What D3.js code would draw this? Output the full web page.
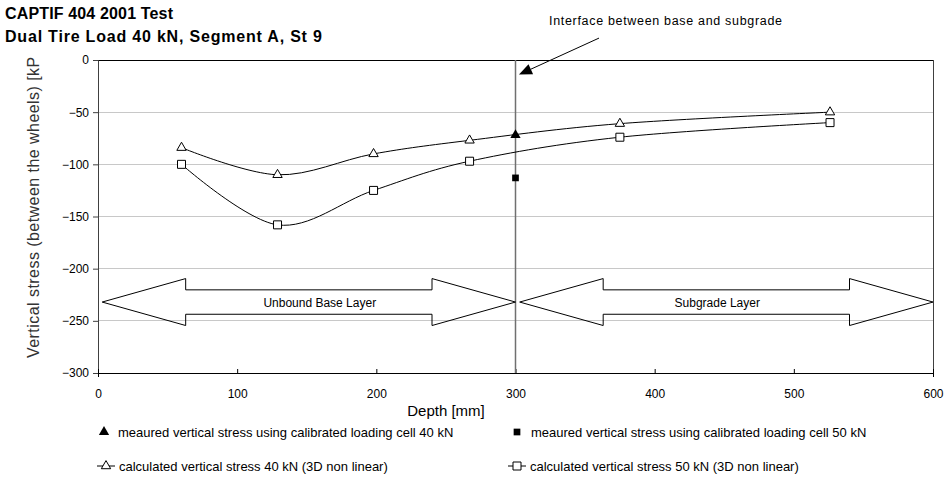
<!DOCTYPE html>
<html>
<head>
<meta charset="utf-8">
<script src="https://cdn.jsdelivr.net/npm/d3@7"></script>
<style>
  html, body { margin: 0; padding: 0; background: #fff; }
  svg { display: block; font-family: Arial, "Liberation Sans", sans-serif; }
</style>
</head>
<body>
<svg id="chart" width="947" height="479"></svg>
<script>
// Depths (mm) of the calculated stress points
const calcDepths = [60, 129, 198, 267, 375, 526];
// Calculated vertical stress (kPa), 3D non linear model
const calc40 = [-84, -110, -90, -77, -61, -50];
const calc50 = [-100, -158, -125, -97, -74, -60];
// Measured vertical stress from the calibrated loading cell (kPa)
const measuredDepths = [300];
const measured40 = [-72];
const measured50 = [-113];
// Layer extents (mm)
const layerNames = ["Unbound Base Layer", "Subgrade Layer"];
const layerFrom = [0, 300];
const layerTo = [300, 600];
const interfaceDepth = 300;
// Axis ticks
const xTicks = [0, 100, 200, 300, 400, 500, 600];
const yTicks = [0, -50, -100, -150, -200, -250, -300];

const svg = d3.select("#chart");
const x = d3.scaleLinear().domain([0, 600]).range([98, 933]);
const y = d3.scaleLinear().domain([-300, 0]).range([373, 60]);

// Titles
svg.append("text").attr("x", 5).attr("y", 19).attr("letter-spacing", 0.15)
  .attr("font-size", 16).attr("font-weight", "bold").text("CAPTIF 404 2001 Test");
svg.append("text").attr("x", 5).attr("y", 42).attr("letter-spacing", 0.8)
  .attr("font-size", 16).attr("font-weight", "bold").text("Dual Tire Load 40 kN, Segment A, St 9");

// Horizontal gridlines
svg.append("g").selectAll("line").data(yTicks.filter(d => d !== 0 && d !== -300)).join("line")
  .attr("x1", x(0)).attr("x2", x(600))
  .attr("y1", d => y(d)).attr("y2", d => y(d))
  .attr("stroke", "#c8c8c8").attr("stroke-width", 1).attr("shape-rendering", "crispEdges");

// Plot frame (top and right)
svg.append("line").attr("x1", x(0)).attr("x2", x(600)).attr("y1", y(0)).attr("y2", y(0))
  .attr("stroke", "#000").attr("shape-rendering", "crispEdges");
svg.append("line").attr("x1", x(600)).attr("x2", x(600)).attr("y1", y(0)).attr("y2", y(-300))
  .attr("stroke", "#404040").attr("shape-rendering", "crispEdges");

// Axes
const yAxis = d3.axisLeft(y).tickValues(yTicks).tickSize(5).tickPadding(4);
const gy = svg.append("g").attr("transform", `translate(${x(0)},0)`).call(yAxis);
gy.select(".domain").attr("stroke", "#404040");
gy.selectAll(".tick line").attr("stroke", "#404040");
gy.selectAll("text").attr("font-size", 12).attr("fill", "#000")
  .attr("font-family", "Arial, 'Liberation Sans', sans-serif");

const xAxis = d3.axisBottom(x).tickValues(xTicks).tickSize(4).tickPadding(12);
const gx = svg.append("g").attr("transform", `translate(0,${y(-300)})`).call(xAxis);
gx.select(".domain").attr("stroke", "#000");
gx.selectAll(".tick line").attr("stroke", "#000").attr("y1", -4).attr("y2", 1);
gx.selectAll("text").attr("font-size", 12).attr("fill", "#000")
  .attr("font-family", "Arial, 'Liberation Sans', sans-serif");

// Axis titles
svg.append("text").attr("x", 446).attr("y", 416).attr("text-anchor", "middle")
  .attr("font-size", 15).text("Depth [mm]");
svg.append("clipPath").attr("id", "ytitle-clip").append("rect")
  .attr("x", 0).attr("y", 57).attr("width", 80).attr("height", 330);
svg.append("g").attr("clip-path", "url(#ytitle-clip)")
  .append("text").attr("transform", "translate(39,358) rotate(-90)")
  .attr("font-size", 16).attr("letter-spacing", 0.45).attr("fill", "#333")
  .text("Vertical stress (between the wheels) [kPa]");

// Interface between layers
svg.append("line").attr("x1", x(interfaceDepth)).attr("x2", x(interfaceDepth))
  .attr("y1", y(0)).attr("y2", y(-300))
  .attr("stroke", "#707070").attr("stroke-width", 1.5);

// Layer double arrows
const arrowLevel = -232;
const headLen = 60, headHalf = 22.5, shaftHalf = 11.7;
const labelShift = [13, -7];
layerNames.forEach((name, i) => {
  const a = layerFrom[i] + 3, b = layerTo[i];
  const pts = [
    [a, arrowLevel],
    [a + headLen, arrowLevel + headHalf],
    [a + headLen, arrowLevel + shaftHalf],
    [b - headLen, arrowLevel + shaftHalf],
    [b - headLen, arrowLevel + headHalf],
    [b, arrowLevel],
    [b - headLen, arrowLevel - headHalf],
    [b - headLen, arrowLevel - shaftHalf],
    [a + headLen, arrowLevel - shaftHalf],
    [a + headLen, arrowLevel - headHalf]
  ];
  svg.append("path")
    .attr("d", d3.line().x(p => x(p[0])).y(p => y(p[1])).curve(d3.curveLinearClosed)(pts))
    .attr("fill", "none").attr("stroke", "#000").attr("stroke-width", 1);
  svg.append("text").attr("x", x((layerFrom[i] + layerTo[i]) / 2) + labelShift[i]).attr("y", y(arrowLevel) + 5)
    .attr("text-anchor", "middle").attr("font-size", 12).text(name);
});

// Calculated curves
const smooth = d3.line().x(d => x(d[0])).y(d => y(d[1])).curve(d3.curveCardinal.tension(0));
const series40 = calcDepths.map((d, i) => [d, calc40[i]]);
const series50 = calcDepths.map((d, i) => [d, calc50[i]]);
svg.append("path").attr("d", smooth(series40)).attr("fill", "none").attr("stroke", "#000").attr("stroke-width", 1);
svg.append("path").attr("d", smooth(series50)).attr("fill", "none").attr("stroke", "#000").attr("stroke-width", 1);

const triOpen = d3.symbol().type(d3.symbolTriangle).size(38);
const sqOpen = d3.symbol().type(d3.symbolSquare).size(64);
const triFull = d3.symbol().type(d3.symbolTriangle).size(46);
const sqFull = d3.symbol().type(d3.symbolSquare).size(45);

svg.append("g").selectAll("path").data(series40).join("path")
  .attr("transform", d => `translate(${x(d[0])},${y(d[1])})`)
  .attr("d", triOpen).attr("fill", "#fff").attr("stroke", "#000");
svg.append("g").selectAll("path").data(series50).join("path")
  .attr("transform", d => `translate(${x(d[0])},${y(d[1])})`)
  .attr("d", sqOpen).attr("fill", "#fff").attr("stroke", "#000");

// Measured points
svg.append("g").selectAll("path").data(measuredDepths.map((d, i) => [d, measured40[i]])).join("path")
  .attr("transform", d => `translate(${x(d[0])},${y(d[1])})`)
  .attr("d", triFull).attr("fill", "#000");
svg.append("g").selectAll("path").data(measuredDepths.map((d, i) => [d, measured50[i]])).join("path")
  .attr("transform", d => `translate(${x(d[0])},${y(d[1])})`)
  .attr("d", sqFull).attr("fill", "#000");

// Annotation pointing at the interface
const tip = [x(interfaceDepth + 2.5), y(-14)];
const tail = [x(interfaceDepth + 60), y(21)];
const ang = Math.atan2(tail[1] - tip[1], tail[0] - tip[0]);
const hl = 13, hw = 5.5;
const base = [tip[0] + hl * Math.cos(ang), tip[1] + hl * Math.sin(ang)];
svg.append("line").attr("x1", tail[0]).attr("y1", tail[1]).attr("x2", base[0]).attr("y2", base[1])
  .attr("stroke", "#000").attr("stroke-width", 1);
svg.append("path").attr("d", `M${tip[0]},${tip[1]}L${base[0] - hw * Math.sin(ang)},${base[1] + hw * Math.cos(ang)}L${base[0] + hw * Math.sin(ang)},${base[1] - hw * Math.cos(ang)}Z`)
  .attr("fill", "#000");
svg.append("text").attr("x", 549).attr("y", 25).attr("font-size", 12.5).attr("letter-spacing", 0.68)
  .text("Interface between base and subgrade");

// Legend
const legend = [
  { label: "meaured vertical stress using calibrated loading cell 40 kN", sym: triFull, fill: "#000", line: false, lx: 104, ly: 432 },
  { label: "meaured vertical stress using calibrated loading cell 50 kN", sym: sqFull, fill: "#000", line: false, lx: 517, ly: 432 },
  { label: "calculated vertical stress 40 kN (3D non linear)", sym: triOpen, fill: "#fff", line: true, lx: 106, ly: 466 },
  { label: "calculated vertical stress 50 kN (3D non linear)", sym: sqOpen, fill: "#fff", line: true, lx: 517, ly: 466 }
];
const lg = svg.append("g").selectAll("g").data(legend).join("g")
  .attr("transform", d => `translate(${d.lx},${d.ly})`);
lg.filter(d => d.line).append("line").attr("x1", -9).attr("x2", 9).attr("y1", 0).attr("y2", 0)
  .attr("stroke", "#000");
lg.append("path").attr("d", d => d.sym()).attr("fill", d => d.fill).attr("stroke", d => d.line ? "#000" : "none");
lg.append("text").attr("x", d => d.line ? 13 : 14).attr("y", 4.5).attr("font-size", 13).text(d => d.label);
</script>
</body>
</html>
